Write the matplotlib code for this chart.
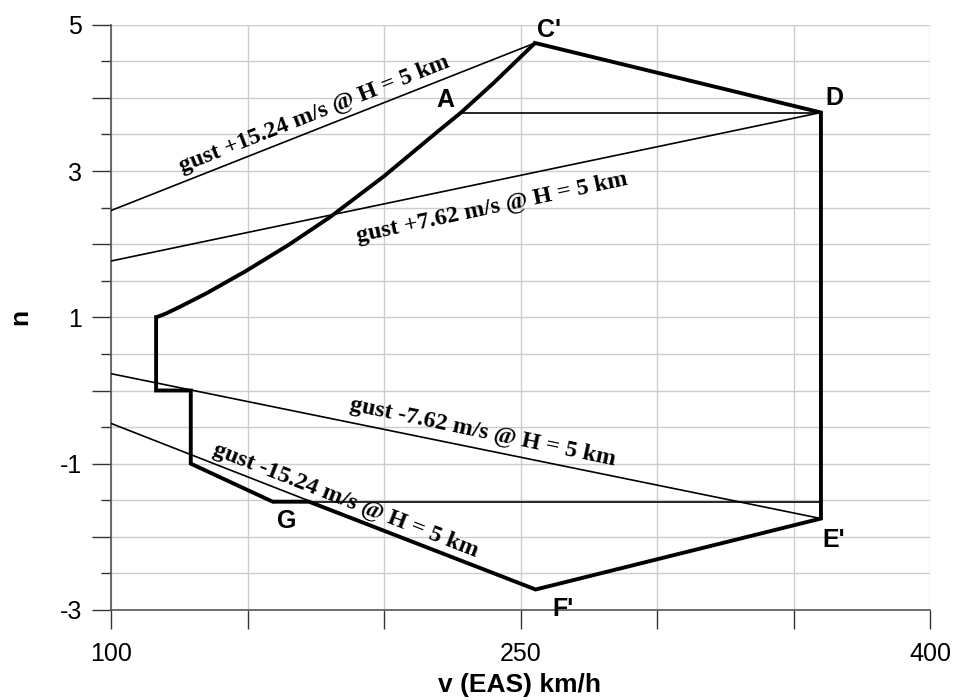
import numpy as np
import matplotlib.pyplot as plt
from matplotlib.ticker import MultipleLocator

# V-n gust envelope, EAS in km/h
# positive stall curve from n = 1 up to C'
stall_v = [116.5, 120, 125, 135, 149.7, 165, 180.2, 200, 219, 228.2, 240, 255.3]
stall_n = [1.0, 1.05, 1.14, 1.33, 1.64, 1.99, 2.37, 2.93, 3.52, 3.80, 4.20, 4.75]

# corners of the envelope (C' -> D -> E' -> F' -> G side -> low speed steps)
env_v = [255.3, 360.0, 360.0, 255.5, 172.5, 159.2, 129.2, 129.2, 116.5, 116.5]
env_n = [4.75, 3.80, -1.75, -2.72, -1.52, -1.52, -1.0, 0.0, 0.0, 1.0]

# gust lines: (v start, v end), (n start, n end)
gust_lines = {
    '+15.24': ([100, 255.3], [2.46, 4.75]),
    '+7.62': ([100, 360], [1.77, 3.80]),
    '-7.62': ([100, 360], [0.23, -1.75]),
    '-15.24': ([100, 255.5], [-0.45, -2.72]),
}

# manoeuvre limits
n_max = 3.80
n_min = -1.52
v_A = 228.2
v_G = 159.2
v_D = 360.0

# gust label centre and angle on screen
gust_label_pos = {
    '+15.24': (174.5, 3.78, 21.5),
    '+7.62': (239.5, 2.50, 12.0),
    '-7.62': (236.0, -0.57, -11.8),
    '-15.24': (186.0, -1.50, -21.3),
}

point_names = ["C'", 'A', 'D', "E'", "F'", 'G']
point_pos = [(260.5, 4.93), (222.3, 3.97), (364.8, 4.0),
             (364.8, -2.05), (265.5, -2.98), (164.4, -1.79)]

fig = plt.figure(figsize=(9.54, 7.0), dpi=100)
ax = fig.add_axes([0.1164, 0.1286, 0.975 - 0.1164, 0.9647 - 0.1286])

ax.set_xlim(100, 400)
ax.set_ylim(-3, 5)

# grid
ax.xaxis.set_major_locator(MultipleLocator(50))
ax.yaxis.set_major_locator(MultipleLocator(1))
ax.yaxis.set_minor_locator(MultipleLocator(0.5))
ax.grid(True, which='both', color='#cccccc', lw=1.0, zorder=0)
ax.set_axisbelow(True)

ax.set_xticks(np.arange(100, 401, 50))
ax.set_xticklabels(['100', '', '', '250', '', '', '400'])
ax.set_yticks(np.arange(-3, 6, 1))
ax.set_yticklabels(['-3', '', '-1', '', '1', '', '3', '', '5'])

for s in ['top', 'right']:
    ax.spines[s].set_visible(False)
for s in ['left', 'bottom']:
    ax.spines[s].set_color('#555555')
    ax.spines[s].set_linewidth(1.2)

ax.tick_params(axis='x', which='major', direction='out', length=14, width=1.0,
               color='#333333', pad=9, labelsize=18)
ax.tick_params(axis='y', which='major', direction='out', length=14, width=1.0,
               color='#333333', pad=7, labelsize=18)
ax.tick_params(axis='y', which='minor', direction='out', length=7, width=1.0,
               color='#333333')
for lab in ax.get_xticklabels() + ax.get_yticklabels():
    lab.set_family('Liberation Sans')

# thin lines
for key, (vv, nn) in gust_lines.items():
    ax.plot(vv, nn, color='black', lw=1.2, zorder=3)
ax.plot([v_A, v_D], [n_max, n_max], color='black', lw=1.2, zorder=3)
ax.plot([v_G, v_D], [n_min, n_min], color='black', lw=1.2, zorder=3)

# envelope
ax.plot(stall_v, stall_n, color='black', lw=2.8, zorder=4, solid_capstyle='butt')
ax.plot(env_v, env_n, color='black', lw=2.8, zorder=4, solid_joinstyle='miter')

for key, (x, y, ang) in gust_label_pos.items():
    ax.text(x, y, f'gust {key} m/s @ H = 5 km', rotation=ang,
            rotation_mode='anchor', ha='center', va='center',
            family='Liberation Serif', weight='bold', fontsize=17.3, zorder=5)

for name, (x, y) in zip(point_names, point_pos):
    ax.text(x, y, name, ha='center', va='center', family='Liberation Sans',
            weight='bold', fontsize=18, zorder=5)

# axis titles
fig.text(0.545, 0.022, 'v (EAS) km/h', ha='center', va='center',
         family='Liberation Sans', weight='bold', fontsize=19)
fig.text(0.021, 0.547, 'n', rotation=90, ha='center', va='center',
         family='Liberation Sans', weight='bold', fontsize=19)

fig.savefig('out.png', dpi=100)
